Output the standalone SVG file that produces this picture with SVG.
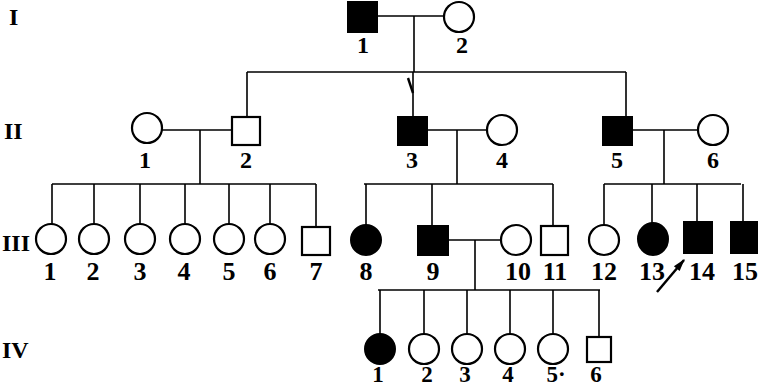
<svg xmlns="http://www.w3.org/2000/svg" width="759" height="387" viewBox="0 0 759 387">
<style>
.m{fill:#000;stroke:#000;stroke-width:2}
.o{fill:#fff;stroke:#000;stroke-width:2.2}
.ln{stroke:#000;stroke-width:1.6;fill:none}
.lb{font-family:"Liberation Serif",serif;font-size:24px;font-weight:bold;text-anchor:middle;fill:#000}
.l3{font-size:26px}
.l4{font-size:23px}
.gen{font-family:"Liberation Serif",serif;font-size:24px;font-weight:bold;fill:#000}
</style>
<defs>
<marker id="ah" viewBox="0 0 10 10" refX="9" refY="5" markerWidth="6" markerHeight="5" orient="auto">
<path d="M0,2 L10,5 L0,8 z" fill="#000"/>
</marker>
</defs>
<g id="generations">
<text class="gen" x="9" y="25">I</text>
<text class="gen" x="4" y="139">II</text>
<text class="gen" x="2" y="251">III</text>
<text class="gen" x="2" y="358">IV</text>
</g>
<g id="connectors">
<path class="ln" d="M377,16 H444 M414,16 V72 M247,72 H626 M247,72 V117 M413,72 V117 M626,72 V117"/>
<path d="M408,78 L413,93" stroke="#000" stroke-width="2.4" fill="none"/>
<path class="ln" d="M162,130 H232 M200,130 V184 M52,184 H316 M52,184 V224 M94,184 V224 M140,184 V224 M185,184 V224 M229,184 V224 M270,184 V224 M316,184 V227"/>
<path class="ln" d="M427,130 H488 M457,130 V184 M364,184 H553 M366,184 V225 M432,184 V226 M553,184 V226"/>
<path class="ln" d="M632,130 H698 M664,130 V184 M604,184 H741 M604,184 V225 M652,184 V225 M697,184 V222 M743,184 V222"/>
<path class="ln" d="M448,240 H501 M475,240 V290 M378,290 H600 M380,290 V334 M424,290 V334 M467,290 V334 M510,290 V334 M553,290 V334 M599,290 V337"/>
<line x1="657" y1="292" x2="684" y2="260" stroke="#000" stroke-width="2.5" marker-end="url(#ah)"/>
</g>
<g id="I-1"><rect class="m" x="348" y="2" width="29" height="30"/><text class="lb" x="363" y="53">1</text></g>
<g id="I-2"><ellipse class="o" cx="459" cy="17" rx="15" ry="15"/><text class="lb" x="462" y="53">2</text></g>
<g id="II-1"><ellipse class="o" cx="147" cy="128" rx="15" ry="15"/><text class="lb" x="145" y="168">1</text></g>
<g id="II-2"><rect class="o" x="232" y="117" width="28" height="28"/><text class="lb" x="246" y="168">2</text></g>
<g id="II-3"><rect class="m" x="398" y="117" width="29" height="28"/><text class="lb" x="412" y="168">3</text></g>
<g id="II-4"><ellipse class="o" cx="502" cy="130" rx="15" ry="15"/><text class="lb" x="502" y="168">4</text></g>
<g id="II-5"><rect class="m" x="603" y="117" width="29" height="28"/><text class="lb" x="617" y="168">5</text></g>
<g id="II-6"><ellipse class="o" cx="713" cy="130" rx="15" ry="15"/><text class="lb" x="713" y="168">6</text></g>
<g id="III-1"><ellipse class="o" cx="51" cy="239" rx="15" ry="15"/><text class="lb l3" x="50" y="280">1</text></g>
<g id="III-2"><ellipse class="o" cx="94" cy="239" rx="15" ry="15"/><text class="lb l3" x="93" y="280">2</text></g>
<g id="III-3"><ellipse class="o" cx="140" cy="239" rx="15" ry="15"/><text class="lb l3" x="140" y="280">3</text></g>
<g id="III-4"><ellipse class="o" cx="185" cy="239" rx="15" ry="15"/><text class="lb l3" x="184" y="280">4</text></g>
<g id="III-5"><ellipse class="o" cx="229" cy="239" rx="15" ry="15"/><text class="lb l3" x="229" y="280">5</text></g>
<g id="III-6"><ellipse class="o" cx="270" cy="239" rx="15" ry="15"/><text class="lb l3" x="270" y="280">6</text></g>
<g id="III-7"><rect class="o" x="302" y="227" width="28" height="28"/><text class="lb l3" x="316" y="280">7</text></g>
<g id="III-8"><ellipse class="m" cx="366" cy="240" rx="15" ry="15"/><text class="lb l3" x="366" y="280">8</text></g>
<g id="III-9"><rect class="m" x="418" y="226" width="30" height="29"/><text class="lb l3" x="433" y="280">9</text></g>
<g id="III-10"><ellipse class="o" cx="516" cy="240" rx="15" ry="15"/><text class="lb l3" x="518" y="280">10</text></g>
<g id="III-11"><rect class="o" x="541" y="226" width="27" height="29"/><text class="lb l3" x="555" y="280">11</text></g>
<g id="III-12"><ellipse class="o" cx="604" cy="240" rx="15" ry="15"/><text class="lb l3" x="604" y="280">12</text></g>
<g id="III-13"><ellipse class="m" cx="653" cy="239" rx="15" ry="16"/><text class="lb l3" x="652" y="280">13</text></g>
<g id="III-14"><rect class="m" x="684" y="222" width="28" height="31"/><text class="lb l3" x="702" y="280">14</text></g>
<g id="III-15"><rect class="m" x="731" y="222" width="26" height="31"/><text class="lb l3" x="745" y="280">15</text></g>
<g id="IV-1"><ellipse class="m" cx="380" cy="349" rx="15" ry="15"/><text class="lb l4" x="378" y="382">1</text></g>
<g id="IV-2"><ellipse class="o" cx="424" cy="349" rx="15" ry="15"/><text class="lb l4" x="427" y="382">2</text></g>
<g id="IV-3"><ellipse class="o" cx="467" cy="349" rx="15" ry="15"/><text class="lb l4" x="465" y="382">3</text></g>
<g id="IV-4"><ellipse class="o" cx="510" cy="349" rx="15" ry="15"/><text class="lb l4" x="508" y="382">4</text></g>
<g id="IV-5"><ellipse class="o" cx="553" cy="349" rx="15" ry="15"/><text class="lb l4" x="556" y="382">5·</text></g>
<g id="IV-6"><rect class="o" x="587" y="337" width="24" height="25"/><text class="lb l4" x="596" y="382">6</text></g>
</svg>
